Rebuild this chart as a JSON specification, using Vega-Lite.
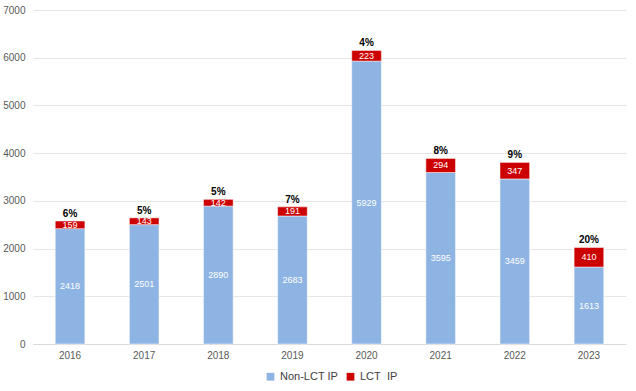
{
  "$schema": "https://vega.github.io/schema/vega-lite/v6.json",
  "autosize": "none",
  "width": 593,
  "height": 334,
  "padding": {"left": 33, "top": 10, "right": 10, "bottom": 47},
  "background": "white",
  "config": {
    "font": "Liberation Sans",
    "view": {"stroke": null}
  },
  "datasets": {
    "segs": [
      {"year": "2016", "series": "Non-LCT IP", "order": 1, "value": 2418},
      {"year": "2016", "series": "LCT\u00a0 IP", "order": 2, "value": 159},
      {"year": "2017", "series": "Non-LCT IP", "order": 1, "value": 2501},
      {"year": "2017", "series": "LCT\u00a0 IP", "order": 2, "value": 143},
      {"year": "2018", "series": "Non-LCT IP", "order": 1, "value": 2890},
      {"year": "2018", "series": "LCT\u00a0 IP", "order": 2, "value": 142},
      {"year": "2019", "series": "Non-LCT IP", "order": 1, "value": 2683},
      {"year": "2019", "series": "LCT\u00a0 IP", "order": 2, "value": 191},
      {"year": "2020", "series": "Non-LCT IP", "order": 1, "value": 5929},
      {"year": "2020", "series": "LCT\u00a0 IP", "order": 2, "value": 223},
      {"year": "2021", "series": "Non-LCT IP", "order": 1, "value": 3595},
      {"year": "2021", "series": "LCT\u00a0 IP", "order": 2, "value": 294},
      {"year": "2022", "series": "Non-LCT IP", "order": 1, "value": 3459},
      {"year": "2022", "series": "LCT\u00a0 IP", "order": 2, "value": 347},
      {"year": "2023", "series": "Non-LCT IP", "order": 1, "value": 1613},
      {"year": "2023", "series": "LCT\u00a0 IP", "order": 2, "value": 410}
    ],
    "totals": [
      {"year": "2016", "total": 2577, "pct": "6%"},
      {"year": "2017", "total": 2644, "pct": "5%"},
      {"year": "2018", "total": 3032, "pct": "5%"},
      {"year": "2019", "total": 2874, "pct": "7%"},
      {"year": "2020", "total": 6152, "pct": "4%"},
      {"year": "2021", "total": 3889, "pct": "8%"},
      {"year": "2022", "total": 3806, "pct": "9%"},
      {"year": "2023", "total": 2023, "pct": "20%"}
    ]
  },
  "encoding": {
    "x": {
      "field": "year", "type": "nominal",
      "scale": {"paddingInner": 0.6, "paddingOuter": 0.3},
      "axis": {"title": null, "labelAngle": 0, "ticks": false, "domainColor": "#D9D9D9", "labelColor": "#595959", "labelFontSize": 10, "labelPadding": 6}
    }
  },
  "layer": [
    {
      "data": {"name": "segs"},
      "mark": {"type": "bar", "stroke": "white", "strokeWidth": 0.5},
      "encoding": {
        "y": {
          "field": "value", "type": "quantitative", "stack": "zero",
          "scale": {"domain": [0, 7000]},
          "axis": {"title": null, "format": "d", "values": [0,1000,2000,3000,4000,5000,6000,7000], "domain": false, "ticks": false, "gridColor": "#E6E6E6", "labelColor": "#595959", "labelFontSize": 10, "labelPadding": 8}
        },
        "order": {"field": "order", "type": "quantitative"},
        "color": {
          "field": "series", "type": "nominal",
          "scale": {"domain": ["Non-LCT IP", "LCT\u00a0 IP"], "range": ["#8EB4E3", "#CC0000"]},
          "legend": {"title": null, "orient": "none", "legendX": 232, "legendY": 361, "direction": "horizontal", "symbolType": "square", "symbolSize": 60, "symbolStrokeWidth": 0, "labelFontSize": 11, "labelColor": "#404040", "columnPadding": 6}
        }
      }
    },
    {
      "data": {"name": "segs"},
      "transform": [
        {"stack": "value", "groupby": ["year"], "sort": [{"field": "order"}], "as": ["v0", "v1"]},
        {"calculate": "(datum.v0 + datum.v1) / 2", "as": "mid"}
      ],
      "mark": {"type": "text", "color": "white", "fontSize": 9, "baseline": "middle"},
      "encoding": {
        "y": {"field": "mid", "type": "quantitative"},
        "text": {"field": "value", "type": "quantitative", "format": "d"}
      }
    },
    {
      "data": {"name": "totals"},
      "mark": {"type": "text", "fontWeight": "bold", "fontSize": 10, "color": "black", "baseline": "bottom", "dy": -2},
      "encoding": {
        "y": {"field": "total", "type": "quantitative"},
        "text": {"field": "pct"}
      }
    }
  ]
}
